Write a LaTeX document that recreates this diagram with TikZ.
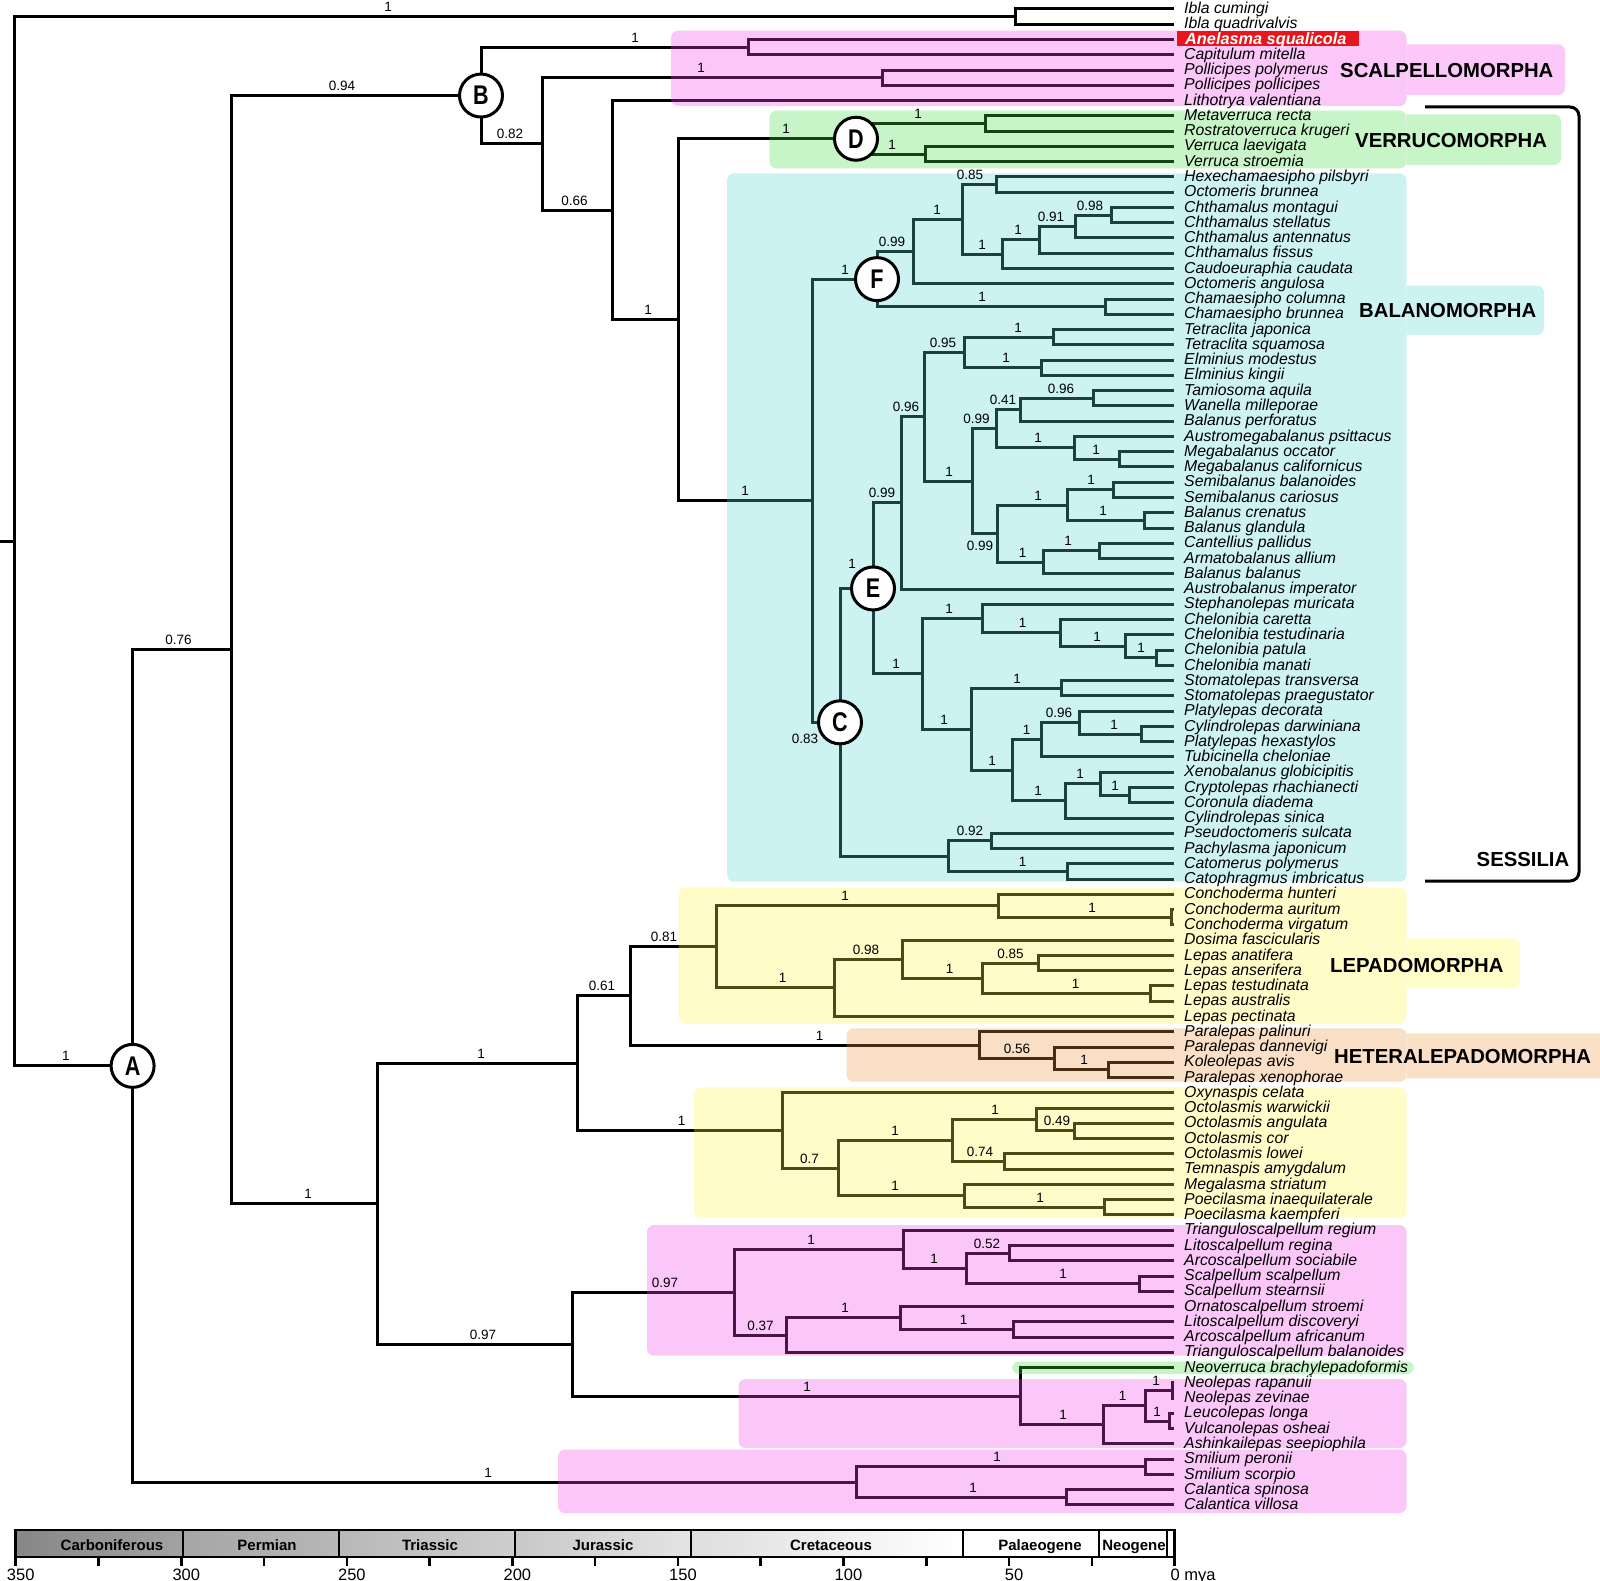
\documentclass[tikz,border=0pt]{standalone}
\usepackage{fontspec}
\setmainfont{Liberation Sans}
\usepackage{graphicx}
\usetikzlibrary{calc}
\definecolor{pinkT}{RGB}{252,200,250}
\definecolor{pinkC}{RGB}{245,72,238}
\definecolor{greenT}{RGB}{200,245,200}
\definecolor{greenC}{RGB}{72,222,72}
\definecolor{cyanT}{RGB}{205,242,242}
\definecolor{cyanC}{RGB}{88,212,212}
\definecolor{yellowT}{RGB}{255,253,200}
\definecolor{yellowC}{RGB}{255,248,72}
\definecolor{orangeT}{RGB}{250,224,198}
\definecolor{orangeC}{RGB}{238,152,65}
\definecolor{anred}{RGB}{232,22,28}
\definecolor{gA}{RGB}{135,135,135}
\definecolor{gB}{RGB}{162,162,162}
\definecolor{gC}{RGB}{166,166,166}
\definecolor{gD}{RGB}{183,183,183}
\definecolor{gE}{RGB}{184,184,184}
\definecolor{gF}{RGB}{206,206,206}
\definecolor{gG}{RGB}{200,200,200}
\definecolor{gH}{RGB}{228,228,228}
\definecolor{gI}{RGB}{222,222,222}
\tikzset{
 tree/.style={line width=3pt},
 leaf/.style={anchor=base west, inner sep=0pt, font=\fontsize{15.8}{18}\selectfont\itshape},
 svl/.style={anchor=base, inner sep=0pt, yshift=5pt, font=\fontsize{13.5}{15}\selectfont},
 svc/.style={anchor=center, inner sep=0pt, font=\fontsize{13.5}{15}\selectfont},
 clade/.style={anchor=base west, inner sep=0pt, font=\fontsize{20.3}{24}\selectfont\bfseries},
 circ/.style={circle, draw, line width=3pt, fill=white, minimum size=43pt, inner sep=0pt, font=\fontsize{27}{30}\selectfont\bfseries},
 ovl/.style={fill opacity=0.3, rounded corners=7pt},
 lbox/.style={rounded corners=7pt},
 period/.style={anchor=base, inner sep=0pt, font=\fontsize{15}{18}\selectfont\bfseries},
 tickmark/.style={line width=2.5pt},
 ticklab/.style={anchor=base, inner sep=0pt, font=\fontsize{16.5}{18}\selectfont},
 bracketline/.style={line width=3pt, rounded corners=9pt},
}
\newcommand\mknode[4]{\path let \p1=($(#3)!.5!(#4)$) in coordinate (#1) at (#2pt,\y1);
 \draw[tree] (#1) |- (#3) (#1) |- (#4);}
\newcommand\supp[3]{\path let \p1=(#2) in node[svl] (s#2) at (#1pt,\y1) {#3};}
\begin{document}
\begin{tikzpicture}[x=1pt,y=-1pt]
\useasboundingbox (0,0) rectangle (1600,1581);
\fill[white] (0,0) rectangle (1600,1581);
% leaf coordinates
\foreach \i in {1,...,99}{\coordinate (l\i) at (1174,{9+(\i-1)*15.265});}
% ---- tree ----
\mknode{ibla}{1015}{l1}{l2}
\mknode{ancap}{748}{l3}{l4}
\mknode{poll}{882}{l5}{l6}
\mknode{vA}{985}{l8}{l9}
\mknode{vB}{925}{l10}{l11}
\mknode{D}{856}{vA}{vB}
\mknode{h085}{996}{l12}{l13}
\mknode{n098}{1111}{l14}{l15}
\mknode{n091}{1075}{n098}{l16}
\mknode{n1c}{1039}{n091}{l17}
\mknode{n1b}{1002}{n1c}{l18}
\mknode{n1a}{962}{h085}{n1b}
\mknode{n099a}{913}{n1a}{l19}
\mknode{cham}{1105}{l20}{l21}
\mknode{F}{877}{n099a}{cham}
\mknode{tet}{1053}{l22}{l23}
\mknode{elm}{1041}{l24}{l25}
\mknode{n095}{964}{tet}{elm}
\mknode{n096c}{1093}{l26}{l27}
\mknode{n041}{1020}{n096c}{l28}
\mknode{n1s}{1119}{l30}{l31}
\mknode{n1r}{1074}{l29}{n1s}
\mknode{n099c}{996}{n041}{n1r}
\mknode{n1v}{1113}{l32}{l33}
\mknode{n1w}{1144}{l34}{l35}
\mknode{n1t}{1067}{n1v}{n1w}
\mknode{n1x}{1099}{l36}{l37}
\mknode{n1u}{1043}{n1x}{l38}
\mknode{n099d}{997}{n1t}{n1u}
\mknode{n1d}{972}{n099c}{n099d}
\mknode{n096}{924}{n095}{n1d}
\mknode{n099b}{901}{n096}{l39}
\mknode{n1j}{1156}{l43}{l44}
\mknode{n1i}{1125}{l42}{n1j}
\mknode{n1h}{1060}{l41}{n1i}
\mknode{n1f}{982}{l40}{n1h}
\mknode{n1k}{1061}{l45}{l46}
\mknode{n1o}{1141}{l48}{l49}
\mknode{n096b}{1079}{l47}{n1o}
\mknode{n1m}{1041}{n096b}{l50}
\mknode{n1q}{1129}{l52}{l53}
\mknode{n1p}{1100}{l51}{n1q}
\mknode{n1n}{1065}{n1p}{l54}
\mknode{n1l}{1012}{n1m}{n1n}
\mknode{n1g}{971}{n1k}{n1l}
\mknode{n1e}{922}{n1f}{n1g}
\mknode{E}{873}{n099b}{n1e}
\mknode{n092}{991}{l55}{l56}
\mknode{cato}{1067}{l57}{l58}
\mknode{nlow}{948}{n092}{cato}
\mknode{C}{840}{E}{nlow}
\mknode{bal}{812}{F}{C}
\mknode{sess}{678}{D}{bal}
\mknode{n066}{612}{l7}{sess}
\mknode{n082}{542}{poll}{n066}
\mknode{B}{481}{ancap}{n082}
\mknode{conav}{1171}{l60}{l61}
\mknode{con}{998}{l59}{conav}
\mknode{n085b}{1038}{l63}{l64}
\mknode{lep3}{1150}{l65}{l66}
\mknode{lep2}{982}{n085b}{lep3}
\mknode{n0985}{902}{l62}{lep2}
\mknode{n098b}{834}{n0985}{l67}
\mknode{lepa}{716}{con}{n098b}
\mknode{n1het}{1108}{l70}{l71}
\mknode{n056}{1054}{l69}{n1het}
\mknode{het}{979}{l68}{n056}
\mknode{n081}{630}{lepa}{het}
\mknode{n049}{1074}{l74}{l75}
\mknode{oct2}{1036}{l73}{n049}
\mknode{n074}{1004}{l76}{l77}
\mknode{oct1}{952}{oct2}{n074}
\mknode{poe}{1104}{l79}{l80}
\mknode{meg}{964}{l78}{poe}
\mknode{n07}{838}{oct1}{meg}
\mknode{oxy}{782}{l72}{n07}
\mknode{n061}{577}{n081}{oxy}
\mknode{n052}{1009}{l82}{l83}
\mknode{sc3}{1139}{l84}{l85}
\mknode{sc2}{966}{n052}{sc3}
\mknode{sc1}{903}{l81}{sc2}
\mknode{lit}{1013}{l87}{l88}
\mknode{orn}{900}{l86}{lit}
\mknode{n037}{786}{orn}{l89}
\mknode{n097c}{734}{sc1}{n037}
\mknode{neoa}{1172}{l91}{l92}
\mknode{neob}{1169}{l93}{l94}
\mknode{neo2}{1145}{neoa}{neob}
\mknode{neo1}{1103}{neo2}{l95}
\mknode{neo}{1020}{l90}{neo1}
\mknode{n097b}{572}{n097c}{neo}
\mknode{big}{377}{n061}{n097b}
\mknode{smi}{1145}{l96}{l97}
\mknode{cal}{1066}{l98}{l99}
\mknode{ncal}{856}{smi}{cal}
\mknode{x1}{231}{B}{big}
\mknode{A}{132.6}{x1}{ncal}
\mknode{root}{14.5}{ibla}{A}
\coordinate (r0) at ($(root)+(-14.5,0)$);
\draw[tree] (r0) -- (root);
% ---- translucent clade boxes (tint lines beneath) ----
\fill[pinkC,ovl] (671,30.7) rectangle (1406.5,106);
\fill[greenC,ovl] (769.4,110.7) rectangle (1406.5,168.3);
\fill[cyanC,ovl] (727,173.3) rectangle (1406.5,881.7);
\fill[yellowC,ovl] (678.6,887.3) rectangle (1406.5,1024);
\fill[orangeC,ovl] (846.7,1028.3) rectangle (1406.5,1081.7);
\fill[yellowC,ovl] (694,1087.3) rectangle (1406.5,1217.7);
\fill[pinkC,ovl] (647,1225) rectangle (1406.5,1355.7);
\fill[greenC,ovl] (1012,1361.5) rectangle (1414,1374);
\fill[pinkC,ovl] (738.5,1379) rectangle (1406.5,1448);
\fill[pinkC,ovl] (558,1449.5) rectangle (1406.5,1513);
% label boxes
\begin{scope}
\clip (1406.5,0) rectangle (1600,1581);
\fill[pinkT,lbox] (1390,44.3) rectangle (1565,95);
\fill[greenT,lbox] (1390,114.3) rectangle (1561,165);
\fill[cyanT,lbox] (1390,285.7) rectangle (1544,335);
\fill[yellowT,lbox] (1390,938.3) rectangle (1520,988.3);
\fill[orangeT,lbox] (1390,1033.3) rectangle (1620,1078.3);
\end{scope}
% ---- circles ----
\node[circ] (cA) at (A) {\scalebox{0.8}[1]{A}};
\node[circ] (cB) at (B) {\scalebox{0.8}[1]{B}};
\node[circ] (cC) at (C) {\scalebox{0.8}[1]{C}};
\node[circ] (cD) at (D) {\scalebox{0.8}[1]{D}};
\node[circ] (cE) at (E) {\scalebox{0.8}[1]{E}};
\node[circ] (cF) at (F) {\scalebox{0.8}[1]{F}};
% ---- leaf labels ----
\foreach \i/\nm in {1/Ibla cumingi, 2/Ibla quadrivalvis, 4/Capitulum mitella, 5/Pollicipes polymerus, 6/Pollicipes pollicipes, 7/Lithotrya valentiana, 8/Metaverruca recta, 9/Rostratoverruca krugeri, 10/Verruca laevigata, 11/Verruca stroemia, 12/Hexechamaesipho pilsbyri, 13/Octomeris brunnea, 14/Chthamalus montagui, 15/Chthamalus stellatus, 16/Chthamalus antennatus, 17/Chthamalus fissus, 18/Caudoeuraphia caudata, 19/Octomeris angulosa, 20/Chamaesipho columna, 21/Chamaesipho brunnea, 22/Tetraclita japonica, 23/Tetraclita squamosa, 24/Elminius modestus, 25/Elminius kingii, 26/Tamiosoma aquila, 27/Wanella milleporae, 28/Balanus perforatus, 29/Austromegabalanus psittacus, 30/Megabalanus occator, 31/Megabalanus californicus, 32/Semibalanus balanoides, 33/Semibalanus cariosus, 34/Balanus crenatus, 35/Balanus glandula, 36/Cantellius pallidus, 37/Armatobalanus allium, 38/Balanus balanus, 39/Austrobalanus imperator, 40/Stephanolepas muricata, 41/Chelonibia caretta, 42/Chelonibia testudinaria, 43/Chelonibia patula, 44/Chelonibia manati, 45/Stomatolepas transversa, 46/Stomatolepas praegustator, 47/Platylepas decorata, 48/Cylindrolepas darwiniana, 49/Platylepas hexastylos, 50/Tubicinella cheloniae, 51/Xenobalanus globicipitis, 52/Cryptolepas rhachianecti, 53/Coronula diadema, 54/Cylindrolepas sinica, 55/Pseudoctomeris sulcata, 56/Pachylasma japonicum, 57/Catomerus polymerus, 58/Catophragmus imbricatus, 59/Conchoderma hunteri, 60/Conchoderma auritum, 61/Conchoderma virgatum, 62/Dosima fascicularis, 63/Lepas anatifera, 64/Lepas anserifera, 65/Lepas testudinata, 66/Lepas australis, 67/Lepas pectinata, 68/Paralepas palinuri, 69/Paralepas dannevigi, 70/Koleolepas avis, 71/Paralepas xenophorae, 72/Oxynaspis celata, 73/Octolasmis warwickii, 74/Octolasmis angulata, 75/Octolasmis cor, 76/Octolasmis lowei, 77/Temnaspis amygdalum, 78/Megalasma striatum, 79/Poecilasma inaequilaterale, 80/Poecilasma kaempferi, 81/Trianguloscalpellum regium, 82/Litoscalpellum regina, 83/Arcoscalpellum sociabile, 84/Scalpellum scalpellum, 85/Scalpellum stearnsii, 86/Ornatoscalpellum stroemi, 87/Litoscalpellum discoveryi, 88/Arcoscalpellum africanum, 89/Trianguloscalpellum balanoides, 90/Neoverruca brachylepadoformis, 91/Neolepas rapanuii, 92/Neolepas zevinae, 93/Leucolepas longa, 94/Vulcanolepas osheai, 95/Ashinkailepas seepiophila, 96/Smilium peronii, 97/Smilium scorpio, 98/Calantica spinosa, 99/Calantica villosa}{
 \node[leaf] (t\i) at (1184,{13.6+(\i-1)*15.265}) {\nm};}
\fill[anred] (1177,31) rectangle (1358.5,46.5);
\node[leaf, text=white, font=\fontsize{16.3}{18}\selectfont\bfseries\itshape] (t3) at (1185,44.1) {Anelasma squalicola};
% ---- support values ----
\supp{388}{ibla}{1}
\supp{66}{A}{1}
\supp{178.6}{x1}{0.76}
\supp{342}{B}{0.94}
\supp{635}{ancap}{1}
\supp{510}{n082}{0.82}
\supp{701}{poll}{1}
\supp{574.5}{n066}{0.66}
\supp{648}{sess}{1}
\supp{786}{D}{1}
\supp{918}{vA}{1}
\supp{892}{vB}{1}
\supp{745}{bal}{1}
\supp{845}{F}{1}
\supp{892}{n099a}{0.99}
\supp{937}{n1a}{1}
\supp{970}{h085}{0.85}
\supp{982}{n1b}{1}
\supp{1018}{n1c}{1}
\supp{1051}{n091}{0.91}
\supp{1090}{n098}{0.98}
\supp{982}{cham}{1}
\supp{1018}{tet}{1}
\supp{1006}{elm}{1}
\supp{943}{n095}{0.95}
\supp{906}{n096}{0.96}
\supp{882}{n099b}{0.99}
\node[svc] (sE) at (852,564) {1};
\supp{949}{n1d}{1}
\supp{976.5}{n099c}{0.99}
\supp{1003}{n041}{0.41}
\supp{1061}{n096c}{0.96}
\supp{1038}{n1r}{1}
\supp{1096}{n1s}{1}
\node[svc] (sn099d) at (980,545.5) {0.99};
\supp{1038}{n1t}{1}
\supp{1091}{n1v}{1}
\supp{1103}{n1w}{1}
\supp{1022.5}{n1u}{1}
\supp{1068}{n1x}{1}
\supp{896}{n1e}{1}
\supp{949}{n1f}{1}
\supp{1022.5}{n1h}{1}
\supp{1097}{n1i}{1}
\supp{1141}{n1j}{1}
\supp{944}{n1g}{1}
\supp{1017}{n1k}{1}
\supp{992}{n1l}{1}
\supp{1026.5}{n1m}{1}
\supp{1059}{n096b}{0.96}
\supp{1114}{n1o}{1}
\supp{1038}{n1n}{1}
\supp{1080}{n1p}{1}
\supp{1115}{n1q}{1}
\node[svc] (sC) at (805,739) {0.83};
\supp{970}{n092}{0.92}
\supp{1022.5}{cato}{1}
\supp{308}{big}{1}
\supp{481}{n061}{1}
\supp{602}{n081}{0.61}
\supp{664}{lepa}{0.81}
\supp{845}{con}{1}
\supp{1092}{conav}{1}
\supp{782.6}{n098b}{1}
\supp{866}{n0985}{0.98}
\supp{949.5}{lep2}{1}
\supp{1010.5}{n085b}{0.85}
\supp{1075.5}{lep3}{1}
\supp{819.5}{het}{1}
\supp{1017}{n056}{0.56}
\supp{1084}{n1het}{1}
\supp{681.7}{oxy}{1}
\supp{809.5}{n07}{0.7}
\supp{895}{oct1}{1}
\supp{995}{oct2}{1}
\supp{1057}{n049}{0.49}
\supp{980}{n074}{0.74}
\supp{895}{meg}{1}
\supp{1040}{poe}{1}
\supp{483}{n097b}{0.97}
\supp{665}{n097c}{0.97}
\supp{811}{sc1}{1}
\supp{934}{sc2}{1}
\supp{987}{n052}{0.52}
\supp{1063}{sc3}{1}
\supp{760.5}{n037}{0.37}
\supp{845}{orn}{1}
\supp{963.5}{lit}{1}
\supp{807}{neo}{1}
\supp{1063}{neo1}{1}
\supp{1122.5}{neo2}{1}
\supp{1156}{neoa}{1}
\supp{1157}{neob}{1}
\supp{488}{ncal}{1}
\supp{997}{smi}{1}
\supp{973}{cal}{1}
% ---- clade labels ----
\node[clade] (lscal) at (1340,77.3) {SCALPELLOMORPHA};
\node[clade] (lverr) at (1355,147.3) {VERRUCOMORPHA};
\node[clade] (lbal) at (1359,317) {BALANOMORPHA};
\node[clade] (llep) at (1330,972.7) {LEPADOMORPHA};
\node[clade] (lhet) at (1334,1063.3) {HETERALEPADOMORPHA};
\node[clade] (lses) at (1476.5,866) {SESSILIA};
% Sessilia bracket
\coordinate (ss1) at (1425,107);
\coordinate (ss2) at (1579,107);
\coordinate (ss3) at (1579,881);
\coordinate (ss4) at (1425,881);
\draw[bracketline] (ss1) -- (ss2) -- (ss3) -- (ss4);
% ---- time scale ----
\shade[left color=gA, right color=gB] (15.7,1530) rectangle (182.7,1557);
\shade[left color=gC, right color=gD] (182.7,1530) rectangle (339.3,1557);
\shade[left color=gE, right color=gF] (339.3,1530) rectangle (515,1557);
\shade[left color=gG, right color=gH] (515,1530) rectangle (690.6,1557);
\shade[left color=gI, right color=white] (690.6,1530) rectangle (963,1557);
\foreach \bx in {182.7,339.3,515,690.6,963,1099,1166.7}{\draw[line width=2pt] (\bx,1530) -- (\bx,1557);}
\draw[line width=2.5pt] (15.7,1530) rectangle (1174.6,1557);
\foreach \tt in {0,25,...,350}{\draw[tickmark] ({1174.6-3.311*\tt},1557) -- ({1174.6-3.311*\tt},1566);}
\foreach \tt in {50,100,...,350}{\node[ticklab] (tl\tt) at ({1174.6-3.311*\tt+5},1580) {\tt};}
\node[ticklab, anchor=base west] (tl0) at (1170.5,1580) {0 mya};
\node[period] (pCarb) at (112,1550) {Carboniferous};
\node[period] (pPerm) at (267,1550) {Permian};
\node[period] (pTrias) at (430,1550) {Triassic};
\node[period] (pJur) at (603,1550) {Jurassic};
\node[period] (pCret) at (831,1550) {Cretaceous};
\node[period] (pPal) at (1040,1550) {Palaeogene};
\node[period] (pNeo) at (1134,1550) {Neogene};
\end{tikzpicture}
\end{document}
